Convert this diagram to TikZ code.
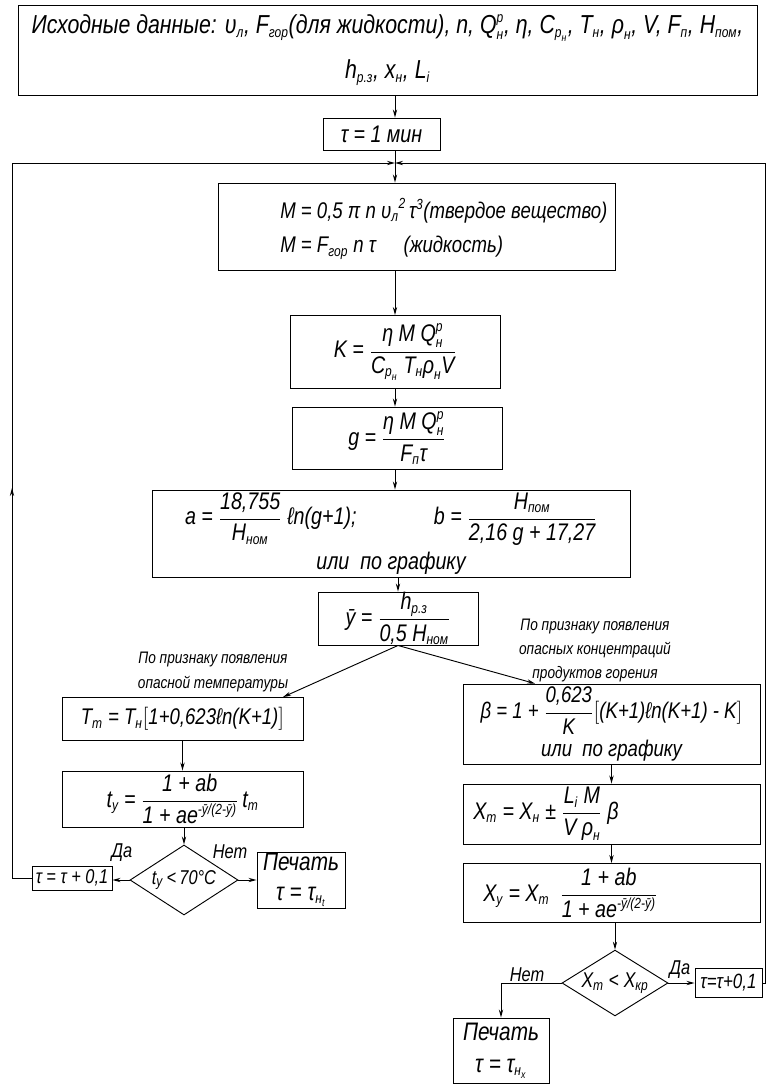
\documentclass[tikz,border=0pt]{standalone}
\usepackage{fontspec}
\setmainfont{Liberation Sans}[FakeStretch=0.82]
\usetikzlibrary{shapes.geometric,arrows.meta}
\newcommand\sbx{\fontsize{11}{12}\selectfont}
\newcommand\ssbx{\fontsize{8}{9}\selectfont}
\newcommand\xsub[2]{\ensuremath{\hbox{#1}_{\hbox{\sbx #2}}}}
\newcommand\xsup[2]{\ensuremath{\hbox{#1}^{\hbox{\sbx #2}}}}
\newcommand\xss[3]{\ensuremath{\hbox{#1}_{\hbox{\sbx #2}}^{\hbox{\sbx #3}}}}
\newcommand\xsubsub[3]{\ensuremath{\hbox{#1}_{\hbox{\sbx #2}_{\hbox{\ssbx #3}}}}}
\newcommand\xfr[2]{\ensuremath{\displaystyle\frac{\hbox{#1}}{\hbox{#2}}}}
\newcommand\fs[1]{\fontsize{#1}{#1}\selectfont\itshape}
\begin{document}
\begin{tikzpicture}[x=0.75pt,y=-0.75pt,
  every node/.style={font=\fs{18}},
  bx/.style 2 args={draw, line width=0.7pt, minimum width=#1*0.75pt, minimum height=#2*0.75pt, inner sep=0pt, align=center},
  dia/.style 2 args={draw, line width=0.7pt, shape=diamond, aspect=1.5, minimum width=#1*0.75pt, minimum height=#2*0.75pt, inner sep=0pt},
  lin/.style={line width=0.7pt},
  arr/.style={line width=0.7pt, -{Stealth[length=6pt,width=3.2pt]}},
  lbl/.style={font=\fontsize{12.5}{16}\selectfont\itshape, align=center, inner sep=0pt}
]
\useasboundingbox (0,0) rectangle (769,1086);
\coordinate (cx) at (395,0);
\coordinate (j) at (395,163);
\coordinate (lx) at (12,0);
\coordinate (rx) at (765,0);
\coordinate (la) at (12,488);
\coordinate (tmx) at (283,0);
\coordinate (bex) at (535,0);

\node[bx={739}{90}, font=\fs{19.5}] (in) at (387.5,50)
 {Исходные данные: \xsub{υ}{л}, \xsub{F}{гор}(для жидкости), n, \xss{Q}{н}{р}, η, \xsubsub{C}{р}{н}, \xsub{T}{н}, \xsub{ρ}{н}, V, \xsub{F}{п}, \xsub{H}{пом},\\[13pt]
  \xsub{h}{р.з}, \xsub{x}{н}, \xsub{L}{i}};
\node[bx={117}{32}, font=\fs{18}] (t1) at (381.5,134) {τ = 1 мин};
\node[bx={397}{87}] (m) at (416.5,226.5) {};
\node[anchor=west, align=left, inner sep=0pt, font=\fs{17}] (mt) at (280,229)
 {M = 0,5 π n \xsub{υ}{л}\raisebox{7pt}{\sbx 2}\,\xsup{τ}{3}(твердое вещество)\\[9pt]
  M = \xsub{F}{гор} n τ \quad (жидкость)};
\node[bx={210}{73}] (k) at (395,352)
 {K = \xfr{η M \xss{Q}{н}{р}}{\xsubsub{C}{р}{н} \xsub{T}{н}\xsub{ρ}{н}V}};
\node[bx={210}{62}] (g) at (397,438)
 {g = \xfr{η M \xss{Q}{н}{р}}{\xsub{F}{п}τ}};
\node[bx={478}{87}] (ab) at (391,533.5)
 {a = \xfr{18,755}{\xsub{H}{ном}} ℓn(g+1);\hspace{58pt}b = \xfr{\xsub{H}{пом}}{2,16 g + 17,27}\\[4pt]
  или \ по графику};
\node[bx={160}{53}] (yb) at (398,618.5)
 {ȳ = \xfr{\xsub{h}{р.з}}{0,5 \xsub{H}{ном}}};
\node[lbl] (l1) at (213,672) {По признаку появления\\[3pt]опасной температуры};
\node[lbl] (l2) at (595,650) {По признаку появления\\[2pt]опасных концентраций\\[2pt]продуктов горения};

\node[bx={241}{43}, font=\fs{17}] (tm) at (182.5,719)
 {\xsub{T}{m} = \xsub{T}{н}$\big[$1+0,623ℓn(K+1)$\big]$};
\node[bx={241}{56}] (ty) at (182.5,799)
 {\xsub{t}{y} = \xfr{1 + ab}{1 + \xsup{ae}{-ȳ/(2-ȳ)}}\,\xsub{t}{m}};
\node[dia={108}{70}, font=\fs{15}] (dl) at (184,880) {\xsub{t}{y}\,<\,70°C};
\node[bx={80}{24}, font=\fs{15}] (tl) at (72,878) {τ = τ + 0,1};
\node[bx={88}{56}, font=\fontsize{19}{22}\selectfont\itshape] (pl) at (301,880) {Печать\\τ = \xsubsub{τ}{н}{t}};
\node[lbl, font=\fs{15}] (da1) at (122,853) {Да};
\node[lbl, font=\fs{15}] (net1) at (230,852) {Нет};

\node[bx={297}{80}, font=\fontsize{17}{20}\selectfont\itshape] (be) at (611.5,724)
 {β = 1 + \xfr{0,623}{K}$\Big[$(K+1)ℓn(K+1) - K$\Big]$\\[3pt]или \ по графику};
\node[bx={297}{60}] (xm) at (611.5,814) {};
\node[anchor=west, inner sep=0pt] (xmt) at (473,814)
 {\xsub{X}{m} = \xsub{X}{н} ± \xfr{\xsub{L}{i} M}{V \xsub{ρ}{н}} β};
\node[bx={297}{59}] (xy) at (611.5,893) {};
\node[anchor=west, inner sep=0pt] (xyt) at (483,893)
 {\xsub{X}{y} = \xsub{X}{m} \ \xfr{1 + ab}{1 + \xsup{ae}{-ȳ/(2-ȳ)}}};
\node[dia={106}{64}, font=\fs{16}] (dr) at (615,983) {\xsub{X}{m} < \xsub{X}{кр}};
\node[bx={67}{29}, font=\fs{15.5}] (tr) at (728.5,983) {τ=τ+0,1};
\node[bx={96}{65}, font=\fontsize{19}{24}\selectfont\itshape] (pr) at (501,1050.5) {Печать\\τ = \xsubsub{τ}{н}{x}};
\node[lbl, font=\fs{15}] (net2) at (527,975) {Нет};
\node[lbl, font=\fs{15}] (da2) at (680,970) {Да};

\draw[arr] (in.south -| cx) -- (t1.north -| cx);
\draw[lin] (t1.south -| cx) -- (j);
\draw[arr] (j) -- (m.north -| cx);
\draw[arr] (m.south -| cx) -- (k.north -| cx);
\draw[arr] (k.south -| cx) -- (g.north -| cx);
\draw[arr] (g.south -| cx) -- (ab.north -| cx);
\draw[arr] (ab.south -| yb.north) -- (yb.north);
\draw[arr] (yb.south) -- (tm.north -| tmx);
\draw[arr] (yb.south) -- (be.north -| bex);
\draw[arr] (tm.south) -- (ty.north);
\draw[arr] (ty.south -| dl.north) -- (dl.north);
\draw[arr] (dl.west) -- (dl.west -| tl.east);
\draw[arr] (dl.east) -- (dl.east -| pl.west);
\draw[arr] (be.south) -- (xm.north);
\draw[arr] (xm.south) -- (xy.north);
\draw[arr] (xy.south -| dr.north) -- (dr.north);
\draw[arr] (dr.east) -- (dr.east -| tr.west);
\draw[arr] (dr.west) -| (pr.north);
\draw[arr] (tl.west) -- (tl.west -| lx) -- (j -| lx) -- (j);
\draw[arr] (tl.west -| lx) -- (la);
\draw[arr] (tr.east) -- (tr.east -| rx) -- (j -| rx) -- (j);
\end{tikzpicture}
\end{document}
